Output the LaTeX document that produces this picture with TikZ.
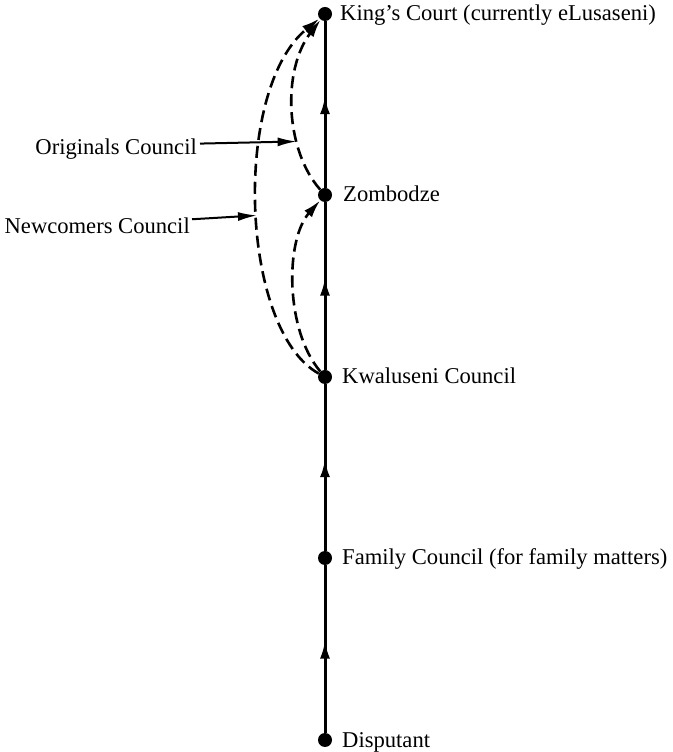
\documentclass[tikz,border=0pt]{standalone}
\usepackage{fontspec}
\setmainfont{Liberation Serif}
\usetikzlibrary{arrows.meta,decorations.markings}
\begin{document}
\begin{tikzpicture}[x=1pt,y=1pt,
  dot/.style={circle,fill=black,inner sep=0pt,minimum size=14pt},
  place/.style={anchor=base west,inner sep=0pt,font=\fontsize{22.6}{26}\selectfont},
  side/.style={anchor=base east,inner sep=0pt,font=\fontsize{22.6}{26}\selectfont},
  mainline/.style={line width=3pt,
    postaction={decorate},
    decoration={markings,mark=at position 0.55 with {\arrow{Latex[length=18pt,width=10pt]}}}},
  dashcurve/.style={line width=2.6pt,dash pattern=on 12pt off 6pt,
    -{Latex[length=18pt,width=10pt]}},
  pointer/.style={line width=2pt,-{Latex[length=19pt,width=9pt]}}]
\useasboundingbox (0,0) rectangle (672,752);

% stations along the appeal route
\node[dot] (king) at (325,738) {};
\node[dot] (zomb) at (325,557) {};
\node[dot] (kwal) at (325,375) {};
\node[dot] (fam)  at (325,194) {};
\node[dot] (disp) at (325,12)  {};

\node[place] (tking) at (340,731) {King’s Court (currently eLusaseni)};
\node[place] (tzomb) at (343,550) {Zombodze};
\node[place] (tkwal) at (342,368) {Kwaluseni Council};
\node[place] (tfam)  at (342,187) {Family Council (for family matters)};
\node[place] (tdisp) at (342,5)   {Disputant};

% main route
\draw[mainline] (disp) -- (fam);
\draw[mainline] (fam) -- (kwal);
\draw[mainline] (kwal) -- (zomb);
\draw[mainline] (zomb) -- (king);

% alternative routes
\draw[dashcurve] (kwal) .. controls (240,422) and (232,662) .. coordinate[pos=0.48] (nc) (king);
\draw[dashcurve] (zomb) .. controls (285,602) and (282,682) .. coordinate[pos=0.32] (oc) (king);
\draw[dashcurve] (kwal) .. controls (285,422) and (285,512) .. (zomb);

% council labels
\node[side] (orig) at (197,597) {Originals Council};
\node[side] (newc) at (190,518) {Newcomers Council};
\draw[pointer] (orig.east) ++(3,6) coordinate (os) -- (oc);
\draw[pointer] (newc.east) ++(2,7) coordinate (ns) -- (nc);
\end{tikzpicture}
\end{document}
